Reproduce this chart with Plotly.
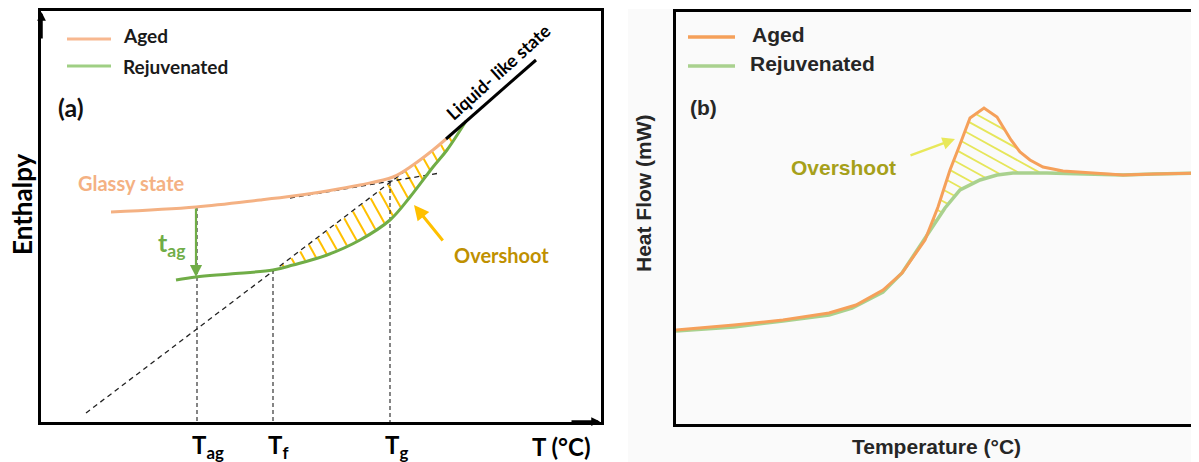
import numpy as np
import plotly.graph_objects as go

W, H = 1199, 462
OFF = 8                      # default page margin of the html body
FW, FH = W - OFF, H - OFF    # figure size so that the page fits the window

# ---------------- Panel (a): schematic enthalpy vs temperature ----------------
aged_a_x = [111, 196, 260, 293, 327, 360, 393, 413, 433, 446]
aged_a_y = [212, 207, 200, 196, 191, 185, 177, 165, 150, 139]
rejuv_a_x = [176, 196, 230, 273, 293, 327, 360, 390, 410, 433, 447, 466]
rejuv_a_y = [280, 277, 274, 270, 265, 255, 240, 220, 197, 167, 150, 121]
liquid_x = [446, 536]
liquid_y = [139, 60]
extrap_x = [86, 413]          # dashed extrapolated liquid line
extrap_y = [413, 165]
glass_ext_x = [290, 440]      # dashed extrapolated glass line
glass_ext_y = [198, 173]
temp_marks = [197, 273, 390]
temp_mark_top = [207, 270, 182]
temp_labels = ["T<sub>ag</sub>", "T<sub>f</sub>", "T<sub>g</sub>"]
tag_arrow_x = [196, 196]
tag_arrow_y = [207, 277]
over_a_x = [444, 414]
over_a_y = [242, 205]

# ---------------- Panel (b): schematic DSC heat flow ----------------
aged_b_x = [676, 734, 783, 829, 856, 883, 902, 925, 938, 950, 959, 970, 984, 997,
            1011, 1020, 1030, 1043, 1063, 1080, 1097, 1123, 1154, 1199]
aged_b_y = [330, 325, 320, 313, 305, 290, 273, 240, 207, 170, 147, 118, 108, 117,
            140, 152, 160, 167, 171, 172, 173, 175, 174, 173]
rejuv_b_x = [676, 734, 783, 829, 852, 883, 902, 925, 945, 960, 980, 997, 1013,
             1047, 1080, 1123, 1154, 1199]
rejuv_b_y = [331, 327, 321, 315, 308, 292, 273, 238, 208, 190, 180, 175, 173,
             173, 174, 175, 174, 173]
over_b_x = [909, 955]
over_b_y = [156, 139]

# colours
ORANGE_A = "#f4b183"
GREEN_A = "#70ad47"
ORANGE_B = "#f5a05a"
GREEN_B = "#a9d18e"
HATCH_A = "#ffc000"
HATCH_B = "#e6e65a"


def px_x(p):
    return (p - OFF) / FW


def px_y(p):
    return 1 - (p - OFF) / FH


def line_fn(xs, ys):
    x0, x1 = xs
    y0, y1 = ys
    return lambda x: y0 + (np.asarray(x) - x0) * (y1 - y0) / (x1 - x0)


def hatch_segments(px, py, top, bot, xlo, xhi, pad=0.8):
    inside = (px >= xlo) & (px <= xhi) & (py > top(px) + pad) & (py < bot(px) - pad)
    sx, sy = [], []
    i = 0
    n = len(px)
    while i < n:
        if inside[i]:
            j = i
            while j + 1 < n and inside[j + 1]:
                j += 1
            if j > i:
                sx += [px[i], px[j], None]
                sy += [py[i], py[j], None]
            i = j + 1
        else:
            i += 1
    return sx, sy


extrap_fn = line_fn(extrap_x, extrap_y)
liquid_fn = line_fn(liquid_x, liquid_y)


def top_a(x):
    x = np.asarray(x)
    upper = np.maximum(extrap_fn(x), np.interp(x, aged_a_x, aged_a_y))
    return np.where(x <= liquid_x[0], upper, liquid_fn(x))


def bot_a(x):
    return np.interp(x, rejuv_a_x, rejuv_a_y)


hxa, hya = [], []
ys = np.arange(100, 300, 0.2)
for c in np.arange(123, 380, 12.5):
    px = c + ys / 1.8
    sx, sy = hatch_segments(px, ys, top_a, bot_a, 282, 452)
    hxa += sx
    hya += sy

top_b = lambda x: np.interp(x, aged_b_x, aged_b_y)
bot_b = lambda x: np.interp(x, rejuv_b_x, rejuv_b_y)
hxb, hyb = [], []
xs = np.arange(900, 1100, 0.2)
for c in np.arange(-411 - 11.7 * 4, -250, 11.7):
    py = c + 0.55 * xs
    sx, sy = hatch_segments(xs, py, top_b, bot_b, 924, 1090, pad=0.6)
    hxb += sx
    hyb += sy

fig = go.Figure()


def add(x, y, color, width, xa="x", ya="y", dash=None, shape="linear"):
    fig.add_trace(go.Scatter(x=x, y=y, mode="lines", xaxis=xa, yaxis=ya,
                             line=dict(color=color, width=width, dash=dash, shape=shape),
                             hoverinfo="skip", showlegend=False))


# ---- panel (a) traces ----
add(hxa, hya, HATCH_A, 2)
add(extrap_x, extrap_y, "#222222", 1.3, dash="5px,4px")
add(glass_ext_x, glass_ext_y, "#222222", 1.3, dash="5px,4px")
for xm, yt in zip(temp_marks, temp_mark_top):
    add([xm, xm], [yt, 422], "#222222", 1.1, dash="4px,3px")
add(aged_a_x, aged_a_y, ORANGE_A, 3, shape="spline")
add(rejuv_a_x, rejuv_a_y, GREEN_A, 3, shape="spline")
add(liquid_x, liquid_y, "#000000", 3)
# legend samples (a)
add([67, 111], [39, 39], "#f8b890", 3)
add([67, 111], [66, 66], "#9fcf84", 3)

# ---- panel (b) traces ----
add(hxb, hyb, HATCH_B, 1.8, "x2", "y2")
add(rejuv_b_x, rejuv_b_y, GREEN_B, 3.5, "x2", "y2")
add(aged_b_x, aged_b_y, ORANGE_B, 3, "x2", "y2")
add([688, 735], [37, 37], ORANGE_B, 3.5, "x2", "y2")
add([688, 735], [66, 66], GREEN_B, 3.5, "x2", "y2")

ann = []
LA = "Lato"
AR = "Liberation Sans, Arial"


def txt(x, y, s, size, color="#1a1a1a", fam=LA, xref="x", yref="y", xanchor="left",
        yanchor="middle", angle=0, xshift=0):
    ann.append(dict(x=x, y=y, xref=xref, yref=yref, text=s, showarrow=False,
                    xanchor=xanchor, yanchor=yanchor, textangle=angle, xshift=xshift,
                    font=dict(family=fam, size=size, color=color)))


def arrow(xs, ys, color, width, size, xr="x", yr="y"):
    ann.append(dict(x=xs[1], y=ys[1], ax=xs[0], ay=ys[0], xref=xr, yref=yr,
                    axref=xr, ayref=yr, showarrow=True, text="", arrowhead=2,
                    arrowsize=size, arrowwidth=width, arrowcolor=color))


# panel (a) texts
txt(121, 35, "<b>Aged</b>", 19)
txt(121, 66, "<b>Rejuvenated</b>", 19)
txt(56, 107, "<b>(a)</b>", 25, "#111111")
txt(76, 183, "<b>Glassy state</b>", 20, ORANGE_A)
txt(156, 244, "<b>t<sub>ag</sub></b>", 25, GREEN_A)
txt(452, 255, "<b>Overshoot</b>", 20, "#bf9000")
txt(498, 72, "<b>Liquid- like state</b>", 18, "#000000", xanchor="center", angle=-42)
txt(px_x(22), px_y(204), "<b>Enthalpy</b>", 26, "#000000", xref="paper", yref="paper",
    xanchor="center", angle=-90)
for xm, lab in zip(temp_marks, temp_labels):
    txt(xm, px_y(446), "<b>" + lab + "</b>", 24, "#000000", yref="paper", xshift=-7)
txt(530, px_y(446), "<b>T (°C)</b>", 24, "#000000", yref="paper")

# arrows
arrow(tag_arrow_x, tag_arrow_y, GREEN_A, 2.2, 1.1)
arrow(over_a_x, over_a_y, HATCH_A, 3, 1)
arrow(over_b_x, over_b_y, "#e8e85a", 2.5, 1, "x2", "y2")
arrow([41.5, 41.5], [40, 12], "#000000", 2.5, 0.7)
arrow([570, 600], [421.5, 421.5], "#000000", 2.5, 0.7)

# panel (b) texts
txt(750, 35, "<b>Aged</b>", 21, "#262626", AR, "x2", "y2")
txt(748, 64, "<b>Rejuvenated</b>", 21, "#262626", AR, "x2", "y2")
txt(688, 108, "<b>(b)</b>", 21, "#262626", AR, "x2", "y2")
txt(789, 168, "<b>Overshoot</b>", 21, "#a6a01a", AR, "x2", "y2")
txt(px_x(644), px_y(193), "<b>Heat Flow (mW)</b>", 21, "#262626", AR, "paper", "paper",
    xanchor="center", angle=-90)
txt(936, px_y(446), "<b>Temperature (°C)</b>", 21, "#262626", AR, "x2", "paper",
    xanchor="center")

axis_common = dict(showgrid=False, zeroline=False, showticklabels=False, ticks="",
                   showline=True, linecolor="#000000", linewidth=2.5)

fig.update_layout(
    width=FW, height=FH, margin=dict(l=0, r=0, t=0, b=0),
    paper_bgcolor="#ffffff", plot_bgcolor="rgba(0,0,0,0)",
    showlegend=False,
    xaxis=dict(domain=[px_x(41), px_x(601)], range=[41, 601], mirror=True, anchor="y", **axis_common),
    yaxis=dict(domain=[px_y(422), px_y(11)], range=[422, 11], mirror=True, anchor="x", **axis_common),
    xaxis2=dict(domain=[px_x(676), 1], range=[676, 1199], mirror=True, anchor="y2", **axis_common),
    yaxis2=dict(domain=[px_y(424), px_y(12)], range=[424, 12], mirror=False, anchor="x2", **axis_common),
    annotations=ann,
    shapes=[dict(type="rect", xref="paper", yref="paper", x0=px_x(628), x1=1, y0=0,
                 y1=px_y(9), fillcolor="#fafafa", line=dict(width=0), layer="below")],
)

fig.write_html("out.html")
